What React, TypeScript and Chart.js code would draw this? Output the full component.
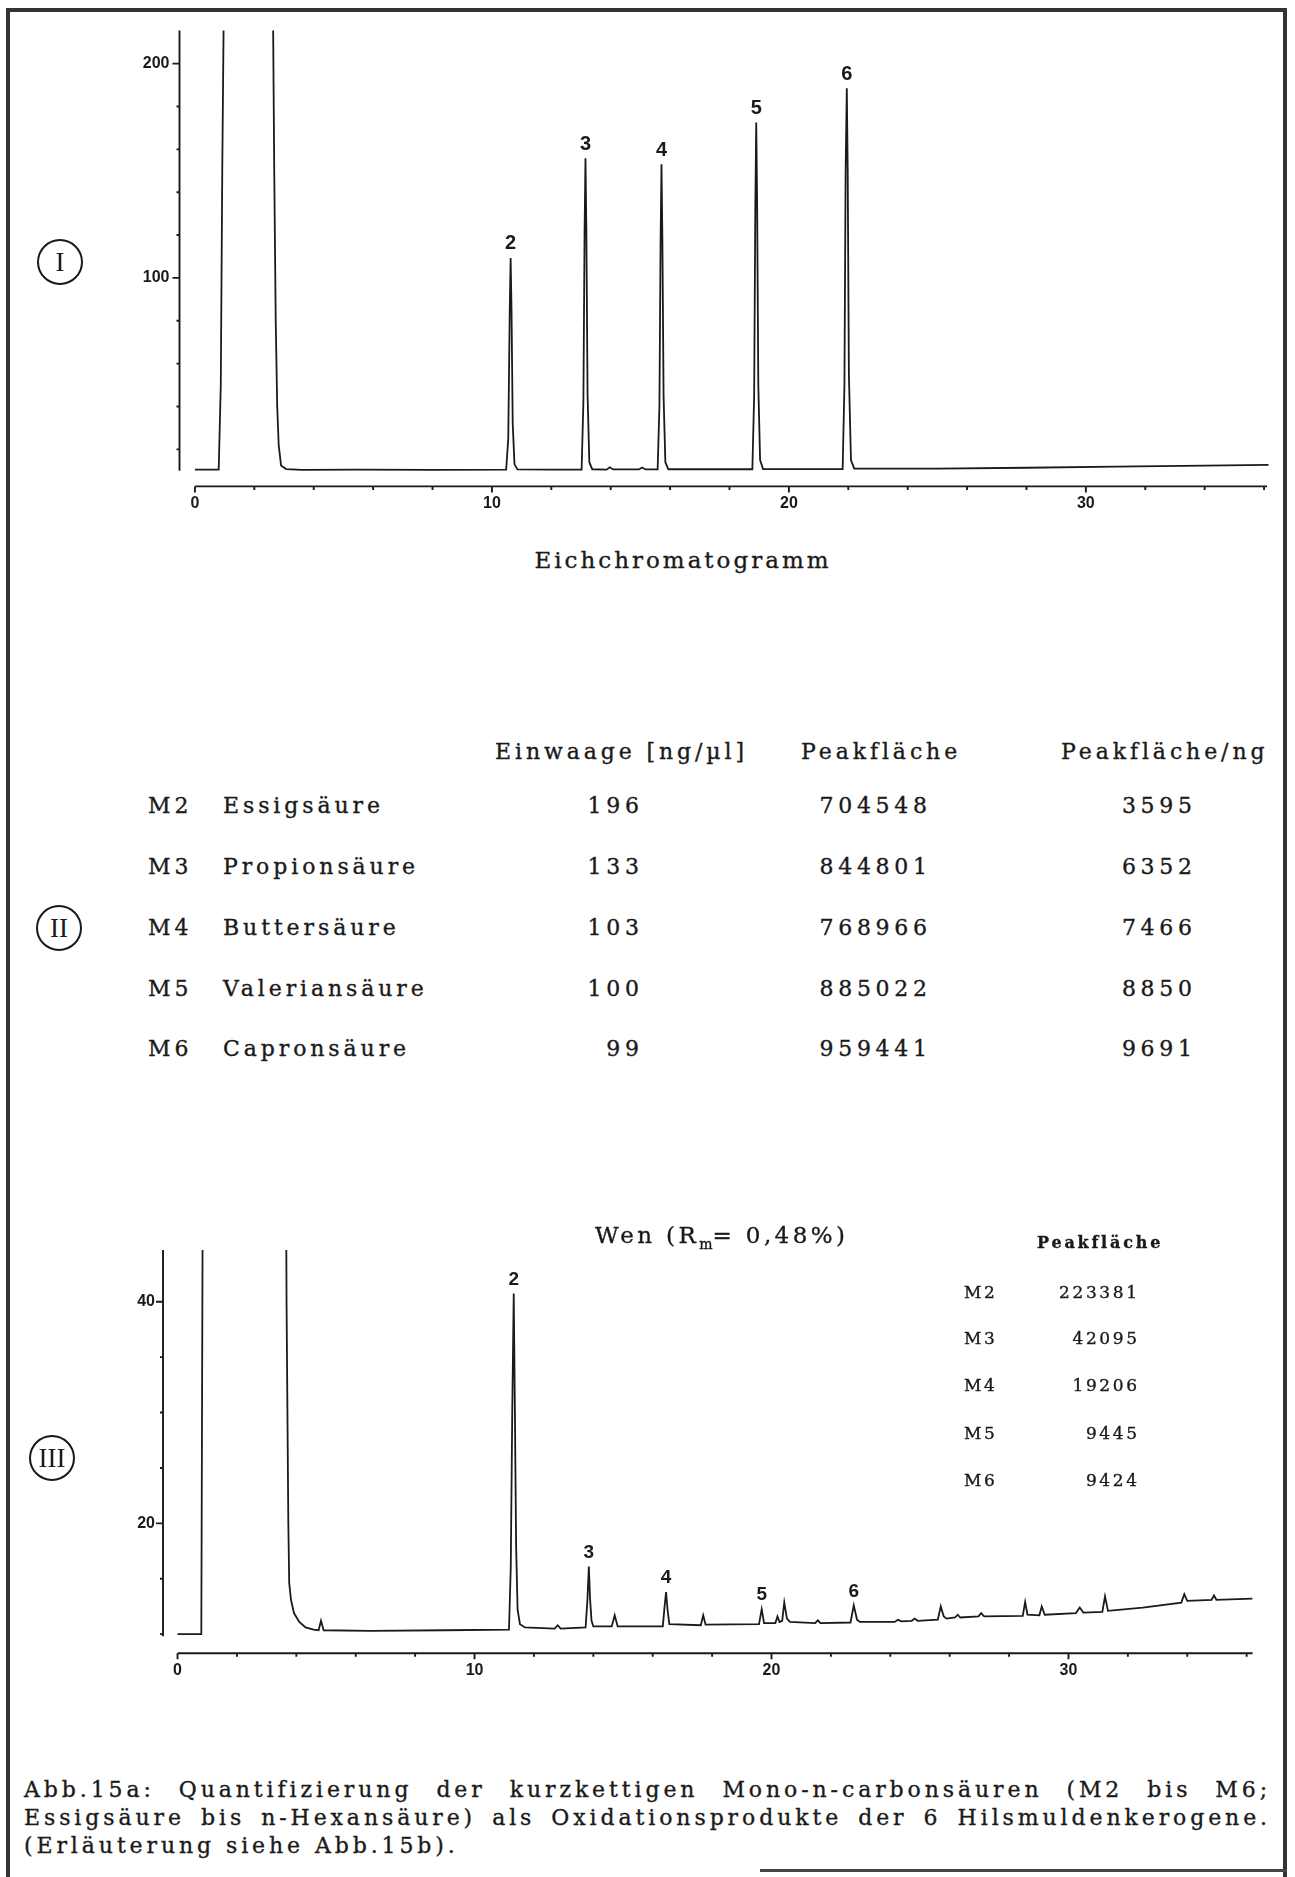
import React, { useEffect, useRef } from 'react';
import { Chart, registerables } from 'chart.js';

Chart.register(...registerables);

const INK = '#1a1a1a';
const SERIF = '"DejaVu Serif", "Liberation Serif", serif';
const ROMAN = '"Liberation Serif", "DejaVu Serif", serif';
const SANS = '"Liberation Sans", Arial, sans-serif';

// ---------- Chromatogram I (Eichchromatogramm) ----------
const timesI = [
  0.0, 0.8, 0.87, 0.92, 0.98, 2.62, 2.67, 2.72, 2.77, 2.82, 2.9, 3.07, 3.6, 5.5, 8.0,
  10.48, 10.55, 10.6, 10.63, 10.66, 10.7, 10.76, 10.86, 12.0,
  13.02, 13.08, 13.12, 13.15, 13.18, 13.22, 13.28, 13.38,
  13.86, 13.97, 14.08, 14.95, 15.06, 15.17,
  15.58, 15.64, 15.68, 15.71, 15.74, 15.78, 15.84, 15.94, 17.5,
  18.77, 18.83, 18.87, 18.9, 18.93, 18.97, 19.03, 19.13, 20.5,
  21.81, 21.87, 21.91, 21.95, 21.98, 22.02, 22.09, 22.2,
  25.0, 28.0, 31.0, 34.0, 36.15,
];
const signalI = [
  10.5, 10.5, 50, 150, 240, 240, 150, 80, 40, 22, 12.5, 10.8, 10.4, 10.5, 10.4,
  10.5, 25, 85, 109.3, 85, 32, 13, 10.6, 10.5,
  10.5, 42, 122, 155.8, 122, 46, 14, 10.7,
  10.5, 11.6, 10.6, 10.6, 11.5, 10.6,
  10.6, 40, 118, 153.0, 118, 45, 14, 10.7, 10.7,
  10.7, 45, 135, 172.5, 135, 50, 15, 10.8, 10.8,
  10.8, 50, 150, 188.5, 150, 55, 15, 11.0,
  11.0, 11.4, 11.9, 12.4, 12.7,
];
const peakLabelsI = ['2', '3', '4', '5', '6'];
const peakTimesI = [10.63, 13.15, 15.71, 18.9, 21.95];
const peakHeightsI = [109.3, 155.8, 153.0, 172.5, 188.5];
const xTickMarksI = [0, 2, 4, 6, 8, 10, 12, 14, 16, 18, 20, 22, 24, 26, 28, 30, 32, 34, 36];
const xTickLabelsI = [0, 10, 20, 30];
const yTickMarksI = [20, 40, 60, 80, 100, 120, 140, 160, 180, 200];
const yTickLabelsI = [100, 200];

// ---------- Table II ----------
const acidCodes = ['M2', 'M3', 'M4', 'M5', 'M6'];
const acidNames = ['Essigsäure', 'Propionsäure', 'Buttersäure', 'Valeriansäure', 'Capronsäure'];
const einwaage = [196, 133, 103, 100, 99];
const peakflaeche = [704548, 844801, 768966, 885022, 959441];
const peakflaecheProNg = [3595, 6352, 7466, 8850, 9691];

// ---------- Chromatogram III (Wen) ----------
const timesIII = [
  0.0, 0.8, 0.83, 0.86, 3.64, 3.67, 3.7, 3.73, 3.76, 3.82, 3.92, 4.1, 4.31, 4.58, 4.75, 4.83, 4.92,
  6.5, 9.0, 11.16, 11.22, 11.27, 11.32, 11.36, 11.4, 11.45, 11.53, 11.7, 12.7, 12.8, 12.9,
  13.74, 13.8, 13.85, 13.89, 13.94, 14.0, 14.62, 14.72, 14.82,
  16.34, 16.4, 16.45, 16.5, 16.56, 17.62, 17.7, 17.78,
  19.58, 19.67, 19.75, 20.13, 20.2, 20.27, 20.36, 20.43, 20.52, 20.62,
  21.47, 21.56, 21.65, 22.66, 22.77, 22.88, 22.98,
  24.15, 24.26, 24.37, 24.72, 24.82, 24.92, 25.6, 25.7, 25.8, 25.9,
  26.18, 26.27, 26.36, 26.97, 27.06, 27.16, 28.46, 28.54, 28.62,
  29.02, 29.1, 29.2, 30.25, 30.38, 30.5, 31.14, 31.23, 31.33,
  32.5, 33.8, 33.9, 34.0, 34.82, 34.9, 34.98, 36.2,
];
const signalIII = [
  10.0, 10.0, 35, 60, 60, 40, 30, 20, 14.6, 13.1, 11.9, 11.1, 10.6, 10.4, 10.35, 11.2, 10.35,
  10.3, 10.35, 10.4, 16, 30, 40.75, 30, 18, 12.2, 10.9, 10.6, 10.5, 10.8, 10.5,
  10.6, 13.0, 16.1, 13.2, 11.2, 10.7, 10.7, 11.7, 10.7,
  10.7, 12.5, 13.8, 12.2, 10.9, 10.8, 11.7, 10.85,
  10.9, 12.25, 11.0, 11.0, 11.6, 11.1, 11.2, 12.85, 11.4, 11.1,
  11.0, 11.25, 11.0, 11.05, 12.6, 11.3, 11.1,
  11.1, 11.3, 11.15, 11.2, 11.4, 11.2, 11.3, 12.5, 11.6, 11.4,
  11.5, 11.75, 11.5, 11.6, 11.9, 11.6, 11.65, 12.9, 11.75,
  11.7, 12.5, 11.75, 11.9, 12.4, 11.95, 12.0, 13.4, 12.1,
  12.4, 12.85, 13.6, 13.0, 13.1, 13.5, 13.1, 13.2,
];
const peakLabelsIII = ['2', '3', '4', '5', '6'];
const peakTimesIII = [11.32, 13.85, 16.45, 19.67, 22.77];
const peakHeightsIII = [40.75, 16.1, 13.8, 12.25, 12.6];
const xTickMarksIII = [0, 2, 4, 6, 8, 10, 12, 14, 16, 18, 20, 22, 24, 26, 28, 30, 32, 34, 36];
const xTickLabelsIII = [0, 10, 20, 30];
const yTickMarksIII = [10, 15, 20, 25, 30, 35, 40];
const yTickLabelsIII = [20, 40];
const wenCodes = ['M2', 'M3', 'M4', 'M5', 'M6'];
const wenPeakflaeche = [223381, 42095, 19206, 9445, 9424];

const captionLines = [
  'Abb.15a: Quantifizierung der kurzkettigen Mono-n-carbonsäuren (M2 bis M6;',
  'Essigsäure bis n-Hexansäure) als Oxidationsprodukte der 6 Hilsmuldenkerogene.',
  '(Erläuterung siehe Abb.15b).',
];

const PAGE_W = 1295;
const Y_AXIS_W = 60;
const X_AXIS_H = 30;
const STROKE = '0.35px #1a1a1a';

type ChromProps = {
  canvasTop: number;
  canvasHeight: number;
  area: { left: number; right: number; top: number; bottom: number };
  xMin: number;
  xMax: number;
  xEnd: number;
  yMin: number;
  yMax: number;
  yStart: number;
  times: number[];
  signal: number[];
  xMarks: number[];
  xLabels: number[];
  yMarks: number[];
  yLabels: number[];
  peakLabels: string[];
  peakTimes: number[];
  peakHeights: number[];
  peakFont: string;
  yPad: number;
};

function Chromatogram(p: ChromProps) {
  const ref = useRef<HTMLCanvasElement | null>(null);
  useEffect(() => {
    if (!ref.current) return;
    const axesPlugin = {
      id: 'chromAxes',
      afterDraw(chart: any) {
        const { ctx, chartArea } = chart;
        const xs = chart.scales.x;
        const ys = chart.scales.y;
        ctx.save();
        ctx.strokeStyle = INK;
        ctx.lineWidth = 1.9;
        ctx.beginPath();
        ctx.moveTo(chartArea.left, ys.getPixelForValue(p.yStart));
        ctx.lineTo(chartArea.left, chartArea.top);
        p.yMarks.forEach((v) => {
          const py = ys.getPixelForValue(v);
          const len = p.yLabels.includes(v) ? 7 : 3;
          ctx.moveTo(chartArea.left, py);
          ctx.lineTo(chartArea.left - len, py);
        });
        const by = chartArea.bottom;
        ctx.moveTo(xs.getPixelForValue(0), by);
        ctx.lineTo(xs.getPixelForValue(p.xEnd), by);
        p.xMarks.forEach((v) => {
          const px = xs.getPixelForValue(v);
          const len = p.xLabels.includes(v) ? 6 : 3.5;
          ctx.moveTo(px, by);
          ctx.lineTo(px, by + len);
        });
        ctx.stroke();
        ctx.fillStyle = INK;
        ctx.font = p.peakFont;
        ctx.textAlign = 'center';
        ctx.textBaseline = 'middle';
        p.peakLabels.forEach((l, i) => {
          ctx.fillText(l, xs.getPixelForValue(p.peakTimes[i]), ys.getPixelForValue(p.peakHeights[i]) - 14);
        });
        ctx.restore();
      },
    };
    const chart = new Chart(ref.current, {
      type: 'line',
      data: {
        datasets: [
          {
            data: p.times.map((t, i) => ({ x: t, y: p.signal[i] })),
            borderColor: INK,
            borderWidth: 1.8,
            pointRadius: 0,
            tension: 0,
            fill: false,
          },
        ],
      },
      options: {
        responsive: false,
        animation: false,
        events: [],
        layout: {
          padding: {
            left: p.area.left - Y_AXIS_W,
            right: PAGE_W - p.area.right,
            top: p.area.top - p.canvasTop,
            bottom: p.canvasTop + p.canvasHeight - p.area.bottom - X_AXIS_H,
          },
        },
        plugins: { legend: { display: false }, tooltip: { enabled: false }, title: { display: false } },
        scales: {
          x: {
            type: 'linear',
            min: p.xMin,
            max: p.xMax,
            grid: { display: false, drawTicks: false },
            border: { display: false },
            afterBuildTicks: (scale: any) => {
              scale.ticks = p.xMarks.map((v) => ({ value: v }));
            },
            afterFit: (scale: any) => {
              scale.height = X_AXIS_H;
            },
            ticks: {
              autoSkip: false,
              maxRotation: 0,
              minRotation: 0,
              padding: 8,
              color: INK,
              font: { family: SANS, size: 16, weight: 'bold' },
              callback: (v: any) => (p.xLabels.includes(Number(v)) ? String(v) : ''),
            },
          },
          y: {
            type: 'linear',
            min: p.yMin,
            max: p.yMax,
            grid: { display: false, drawTicks: false },
            border: { display: false },
            afterBuildTicks: (scale: any) => {
              scale.ticks = p.yMarks.map((v) => ({ value: v }));
            },
            afterFit: (scale: any) => {
              scale.width = Y_AXIS_W;
            },
            ticks: {
              autoSkip: false,
              padding: p.yPad,
              color: INK,
              font: { family: SANS, size: 16, weight: 'bold' },
              callback: (v: any) => (p.yLabels.includes(Number(v)) ? String(v) : ''),
            },
          },
        },
      },
      plugins: [axesPlugin],
    } as any);
    return () => chart.destroy();
  }, []);
  return (
    <canvas
      ref={ref}
      width={PAGE_W}
      height={p.canvasHeight}
      style={{ position: 'absolute', left: 0, top: p.canvasTop, width: PAGE_W, height: p.canvasHeight }}
    />
  );
}

type TProps = {
  x: number;
  y: number;
  a?: 'l' | 'c' | 'r';
  size: number;
  ls?: number;
  weight?: number;
  family?: string;
  children: React.ReactNode;
};

function T({ x, y, a = 'l', size, ls = 0, weight = 400, family = SERIF, children }: TProps) {
  const left = a === 'r' ? x + ls : a === 'c' ? x + ls / 2 : x;
  const tx = a === 'r' ? '-100%' : a === 'c' ? '-50%' : '0';
  return (
    <div
      style={{
        position: 'absolute',
        left,
        top: y,
        transform: `translate(${tx}, -50%)`,
        fontSize: size,
        letterSpacing: ls,
        fontWeight: weight,
        fontFamily: family,
        lineHeight: 1,
        whiteSpace: 'nowrap',
        color: INK,
        WebkitTextStroke: STROKE,
      }}
    >
      {children}
    </div>
  );
}

function Circle({ cx, cy, label }: { cx: number; cy: number; label: string }) {
  return (
    <div
      style={{
        position: 'absolute',
        left: cx - 23,
        top: cy - 23,
        width: 46,
        height: 46,
        boxSizing: 'border-box',
        border: `2.5px solid ${INK}`,
        borderRadius: '50%',
        display: 'flex',
        alignItems: 'center',
        justifyContent: 'center',
        fontFamily: ROMAN,
        fontSize: 27,
        lineHeight: 1,
        color: INK,
      }}
    >
      {label}
    </div>
  );
}

export default function App() {
  const rowYII = [806, 866.5, 927.5, 988.5, 1049];
  const rowYIII = [1292, 1338, 1385, 1433, 1480];
  const tblSize = 22;
  const tblLs = 3.9;
  return (
    <div style={{ position: 'absolute', left: 0, top: 0, width: PAGE_W, height: 1877, background: '#fff', overflow: 'hidden' }}>
      {/* frame */}
      <div
        style={{
          position: 'absolute',
          left: 6,
          top: 8,
          width: 1287 - 6,
          height: 1900,
          boxSizing: 'border-box',
          borderTop: `4px solid #333`,
          borderLeft: `4px solid #333`,
          borderRight: `4px solid #333`,
        }}
      />
      <div style={{ position: 'absolute', left: 760, top: 1869, width: 1287 - 760, height: 3, background: '#444' }} />

      <Chromatogram
        canvasTop={0}
        canvasHeight={530}
        area={{ left: 179.5, right: 1270, top: 30.4, bottom: 486.4 }}
        xMin={-0.52}
        xMax={36.2}
        xEnd={36.1}
        yMin={2.7}
        yMax={215.5}
        yStart={10}
        times={timesI}
        signal={signalI}
        xMarks={xTickMarksI}
        xLabels={xTickLabelsI}
        yMarks={yTickMarksI}
        yLabels={yTickLabelsI}
        peakLabels={peakLabelsI}
        peakTimes={peakTimesI}
        peakHeights={peakHeightsI}
        peakFont={`bold 20px ${SANS}`}
        yPad={10}
      />
      <Circle cx={60} cy={262} label="I" />
      <T x={681.5} y={560} a="c" size={23} ls={3}>Eichchromatogramm</T>

      {/* Table II */}
      <Circle cx={59} cy={928} label="II" />
      <T x={495} y={752} size={tblSize} ls={tblLs}>Einwaage [ng/µl]</T>
      <T x={801} y={752} size={tblSize} ls={tblLs}>Peakfläche</T>
      <T x={1061} y={752} size={tblSize} ls={tblLs}>Peakfläche/ng</T>
      {acidCodes.map((c, i) => (
        <React.Fragment key={c}>
          <T x={148} y={rowYII[i]} size={tblSize} ls={tblLs}>{c}</T>
          <T x={223} y={rowYII[i]} size={tblSize} ls={tblLs}>{acidNames[i]}</T>
          <T x={639} y={rowYII[i]} a="r" size={tblSize} ls={tblLs + 0.8}>{String(einwaage[i])}</T>
          <T x={927} y={rowYII[i]} a="r" size={tblSize} ls={tblLs + 0.8}>{String(peakflaeche[i])}</T>
          <T x={1192} y={rowYII[i]} a="r" size={tblSize} ls={tblLs + 0.8}>{String(peakflaecheProNg[i])}</T>
        </React.Fragment>
      ))}

      <Chromatogram
        canvasTop={1200}
        canvasHeight={490}
        area={{ left: 163, right: 1252.6, top: 1250, bottom: 1653.3 }}
        xMin={-0.49}
        xMax={36.2}
        xEnd={36.2}
        yMin={8.27}
        yMax={44.67}
        yStart={9.8}
        times={timesIII}
        signal={signalIII}
        xMarks={xTickMarksIII}
        xLabels={xTickLabelsIII}
        yMarks={yTickMarksIII}
        yLabels={yTickLabelsIII}
        peakLabels={peakLabelsIII}
        peakTimes={peakTimesIII}
        peakHeights={peakHeightsIII}
        peakFont={`bold 19px ${SANS}`}
        yPad={8}
      />
      <Circle cx={52} cy={1458} label="III" />
      <T x={595} y={1235} size={23} ls={3.4}>
        Wen (R<sub style={{ fontSize: 14, verticalAlign: 'baseline', position: 'relative', top: 6, letterSpacing: 0 }}>m</sub>= 0,48%)
      </T>
      <T x={1037} y={1243} size={16} ls={2.8} weight={700}>Peakfläche</T>
      {wenCodes.map((c, i) => (
        <React.Fragment key={c}>
          <T x={964} y={rowYIII[i]} size={17} ls={2.6}>{c}</T>
          <T x={1137} y={rowYIII[i]} a="r" size={17} ls={2.6}>{String(wenPeakflaeche[i])}</T>
        </React.Fragment>
      ))}

      {/* caption */}
      {captionLines.map((line, i) => (
        <div
          key={i}
          style={{
            position: 'absolute',
            left: 24,
            top: 1790 + i * 28,
            width: 1247,
            transform: 'translateY(-50%)',
            fontFamily: SERIF,
            fontSize: 22,
            letterSpacing: 3.9,
            lineHeight: 1,
            whiteSpace: 'nowrap',
            textAlign: i < 2 ? 'justify' : 'left',
            textAlignLast: i < 2 ? 'justify' : 'left',
            color: INK,
            WebkitTextStroke: STROKE,
          }}
        >
          {line}
        </div>
      ))}
    </div>
  );
}
